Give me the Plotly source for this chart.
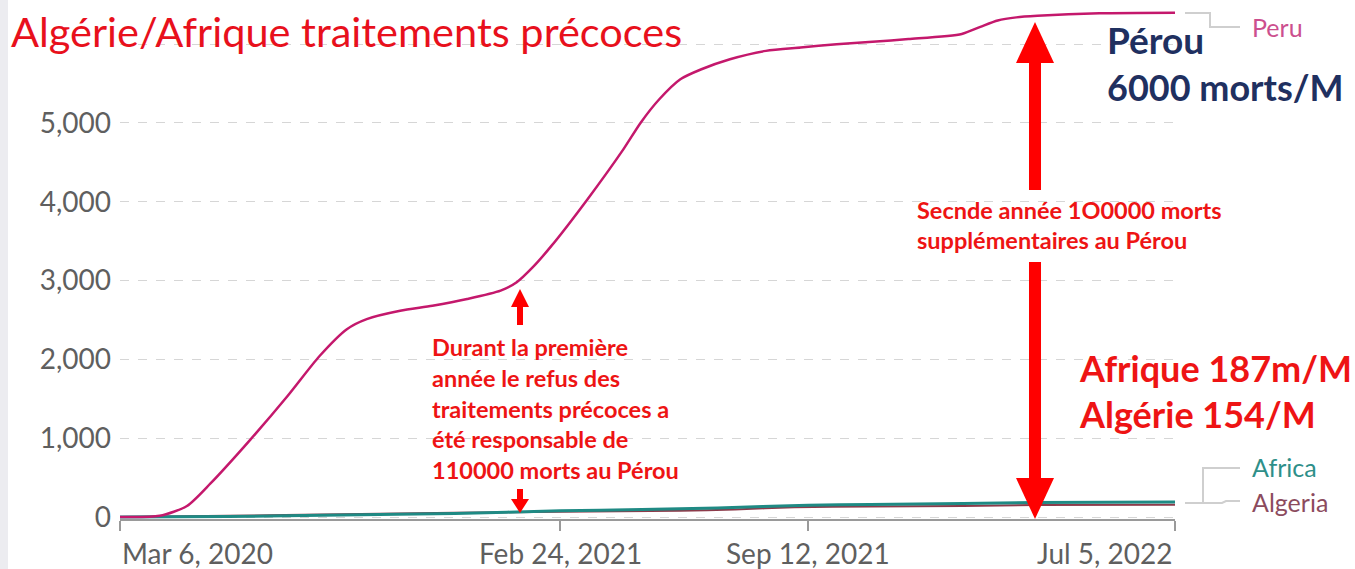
import plotly.graph_objects as go

# ---------------- data ----------------
peru_dates = ["2020-03-06", "2020-04-07", "2020-04-29", "2020-05-18", "2020-06-19", "2020-07-19",
              "2020-08-14", "2020-09-05", "2020-09-21", "2020-10-18", "2020-11-13", "2020-12-11",
              "2021-01-07", "2021-01-20", "2021-02-02", "2021-02-17", "2021-03-18", "2021-04-16",
              "2021-04-30", "2021-05-15", "2021-06-01", "2021-06-18", "2021-07-11", "2021-08-09",
              "2021-09-06", "2021-10-05", "2021-11-03", "2021-12-02", "2022-01-14", "2022-01-29",
              "2022-02-12", "2022-02-27", "2022-03-16", "2022-05-05", "2022-07-05"]
peru_values = [0, 15, 140, 426, 979, 1532,
               2043, 2383, 2511, 2617, 2681, 2766,
               2872, 2979, 3170, 3440, 4030, 4665,
               5004, 5301, 5555, 5682, 5809, 5915,
               5958, 6000, 6030, 6064, 6130, 6220,
               6300, 6340, 6360, 6392, 6400]

africa_dates = ["2020-03-06", "2020-06-01", "2020-09-01", "2020-12-01", "2021-02-24", "2021-05-01",
                "2021-07-01", "2021-09-12", "2021-11-01", "2022-01-15", "2022-03-15", "2022-07-05"]
africa_values = [0, 5, 25, 45, 78, 95, 115, 150, 160, 172, 183, 190]

algeria_dates = ["2020-03-06", "2020-06-01", "2020-09-01", "2020-12-01", "2021-02-24", "2021-06-01",
                 "2021-07-15", "2021-09-01", "2021-11-01", "2022-01-15", "2022-03-15", "2022-07-05"]
algeria_values = [0, 15, 35, 55, 66, 80, 95, 125, 134, 140, 152, 154]

y_ticks = [0, 1000, 2000, 3000, 4000, 5000, 6000]
y_ticktext = ["0", "1,000", "2,000", "3,000", "4,000", "5,000", ""]
x_ticks = ["2020-03-06", "2021-02-24", "2021-09-12", "2022-07-05"]
x_ticktext = ["Mar 6, 2020", "Feb 24, 2021", "Sep 12, 2021", "Jul 5, 2022"]

title_text = "Algérie/Afrique traitements précoces"
peru_note = ["Pérou", "6000 morts/M"]
africa_note = ["Afrique 187m/M", "Algérie 154/M"]
second_year_note = ["Secnde année 1O0000 morts", "supplémentaires au Pérou"]
first_year_note = ["Durant la première", "année le refus des", "traitements précoces a",
                   "été responsable de", "110000 morts au Pérou"]

# ---------------- colours ----------------
C_PERU = "#c4186c"
C_AFRICA = "#1f8a84"
C_ALGERIA = "#8c3b4a"
C_RED = "#ee1414"
C_NAVY = "#1f3060"
C_GREY = "#5f5f5f"
FONT = "Lato"

W, H = 1355, 569
L, R, T, B = 120, 180, 5, 50
PW, PH = W - L - R, H - T - B


def fx(px):
    return (px - L) / PW


def fy(py):
    return (H - B - py) / PH


fig = go.Figure()
fig.add_trace(go.Scatter(x=algeria_dates, y=algeria_values, mode="lines", name="Algeria",
                         line=dict(color=C_ALGERIA, width=2, shape="spline", smoothing=0.5)))
fig.add_trace(go.Scatter(x=africa_dates, y=africa_values, mode="lines", name="Africa",
                         line=dict(color=C_AFRICA, width=3, shape="spline", smoothing=0.5)))
fig.add_trace(go.Scatter(x=peru_dates, y=peru_values, mode="lines", name="Peru",
                         line=dict(color=C_PERU, width=2.5, shape="spline", smoothing=0.7)))

shapes = []
# left grey strip
shapes.append(dict(type="rect", xref="paper", yref="paper", x0=fx(0), x1=fx(8), y0=fy(H), y1=fy(0),
                   fillcolor="#ececf0", line_width=0, layer="below"))
# white boxes behind texts (hide gridlines)
for (x0, y0, x1, y1) in [(8, 0, 705, 57), (1098, 18, 1352, 108), (905, 190, 1230, 262),
                         (420, 330, 690, 490), (1042, 345, 1355, 440)]:
    shapes.append(dict(type="rect", xref="paper", yref="paper", x0=fx(x0), x1=fx(x1),
                       y0=fy(y1), y1=fy(y0), fillcolor="white", line_width=0, layer="between"))


def poly(points, color, layer="above"):
    d = "M " + " L ".join(f"{fx(a):.5f},{fy(b):.5f}" for a, b in points) + " Z"
    return dict(type="path", xref="paper", yref="paper", path=d, fillcolor=color,
                line=dict(width=0), layer=layer)


def polyline(points, color, width=2):
    d = "M " + " L ".join(f"{fx(a):.5f},{fy(b):.5f}" for a, b in points)
    return dict(type="path", xref="paper", yref="paper", path=d,
                line=dict(color=color, width=width))


# big double arrow
ax = 1035
shapes.append(poly([(ax, 22), (ax - 19, 63), (ax + 19, 63)], "#ff0000"))
shapes.append(poly([(ax - 6, 62), (ax + 6, 62), (ax + 6, 190), (ax - 6, 190)], "#ff0000"))
shapes.append(poly([(ax - 6, 262), (ax + 6, 262), (ax + 6, 479), (ax - 6, 479)], "#ff0000"))
shapes.append(poly([(ax, 519), (ax - 19, 478), (ax + 19, 478)], "#ff0000"))
# small up arrow
sx = 520
shapes.append(poly([(sx, 289), (sx - 9, 307), (sx + 9, 307)], "#ff0000"))
shapes.append(poly([(sx - 3, 306), (sx + 3, 306), (sx + 3, 325), (sx - 3, 325)], "#ff0000"))
# small down arrow
shapes.append(poly([(sx - 3, 489), (sx + 3, 489), (sx + 3, 500), (sx - 3, 500)], "#ff0000"))
shapes.append(poly([(sx, 513), (sx - 9, 499), (sx + 9, 499)], "#ff0000"))
# label connectors
shapes.append(polyline([(1185, 13), (1210, 13), (1210, 27), (1240, 27)], "#cfcfcf"))
shapes.append(polyline([(1185, 503), (1203, 503), (1203, 468), (1240, 468)], "#cfcfcf"))
shapes.append(polyline([(1203, 503), (1222, 503), (1226, 501), (1240, 501)], "#cfcfcf"))

ann = []


def text(px, py, s, color, size, bold=False, xanchor="left", yanchor="middle"):
    ann.append(dict(xref="paper", yref="paper", x=fx(px), y=fy(py), text=f"<b>{s}</b>" if bold else s,
                    showarrow=False, xanchor=xanchor, yanchor=yanchor,
                    font=dict(family=FONT, size=size, color=color)))


text(9, 31, title_text, "#e8101c", 41.5)
text(1105, 40, peru_note[0], C_NAVY, 37, True)
text(1105, 87, peru_note[1], C_NAVY, 36, True)
text(1077, 368, africa_note[0], C_RED, 36, True)
text(1077, 414, africa_note[1], C_RED, 36, True)
text(915, 210, second_year_note[0], C_RED, 23.5, True)
text(915, 240, second_year_note[1], C_RED, 23.5, True)
for i, s in enumerate(first_year_note):
    text(430, 347 + i * 30.8, s, C_RED, 23.5, True)
text(1250, 27, "Peru", "#cc4f8e", 25)
text(1250, 467, "Africa", "#2e8f89", 25)
text(1250, 502, "Algeria", "#8c4b5e", 25)

# x tick labels
anchors = ["left", "center", "center", "right"]
for d, s, a in zip(x_ticks, x_ticktext, anchors):
    ann.append(dict(xref="x", yref="paper", x=d, y=fy(553), text=s, showarrow=False,
                    xanchor=a, yanchor="middle", font=dict(family=FONT, size=28, color=C_GREY)))

fig.update_layout(
    width=W, height=H,
    margin=dict(l=L, r=R, t=T, b=B),
    paper_bgcolor="white", plot_bgcolor="white",
    showlegend=False,
    shapes=shapes, annotations=ann,
    xaxis=dict(type="date", range=["2020-03-06", "2022-07-05"], showgrid=False, zeroline=False,
               showline=True, linecolor="#9a9a9a", linewidth=1.5,
               tickmode="array", tickvals=x_ticks, showticklabels=False,
               ticks="outside", ticklen=10, tickcolor="#9a9a9a", tickwidth=1.5),
    yaxis=dict(range=[-25.4, 6497], tickmode="array", tickvals=y_ticks, ticktext=y_ticktext,
               showgrid=True, gridcolor="#d6d6d6", griddash="dash", gridwidth=1,
               zeroline=False, showline=False, ticks="",
               tickfont=dict(family=FONT, size=28, color=C_GREY), ticklabelstandoff=8),
)

fig.write_html("out.html", config={"displayModeBar": False},
               post_script="document.body.style.margin='0px';document.body.style.padding='0px';")
